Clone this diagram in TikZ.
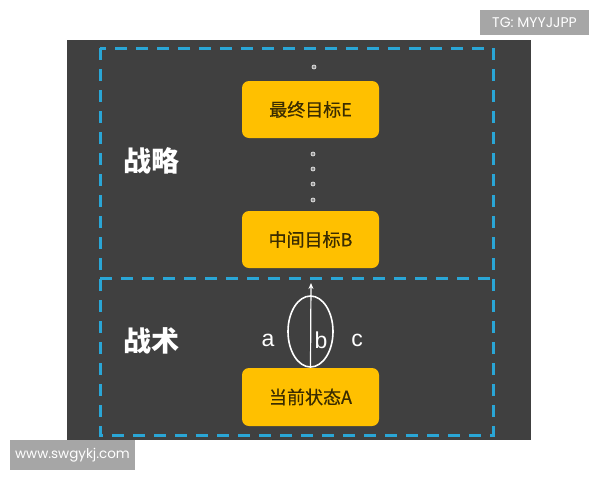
\documentclass[tikz,border=0pt]{standalone}
\usepackage{fontspec}
\setmainfont{Liberation Sans}
\newfontfamily\cjk{Noto Sans CJK SC}
\newfontfamily\cjkgoal{Noto Sans CJK SC}[FakeBold=0.5]
\newfontfamily\wmfont{Poppins}
\usetikzlibrary{arrows.meta,positioning,shapes.geometric}

\begin{document}
\begin{tikzpicture}[x=1pt,y=-1pt,
    goal/.style={fill=goldbox,rounded corners=7pt,minimum width=137pt,minimum height=57pt,
      inner sep=0pt,text=goaltext,font=\cjkgoal\fontsize{18}{20}\selectfont},
    dot/.style={circle,draw=white,fill=black!45,line width=0.6pt,inner sep=0pt,minimum size=4pt},
    region/.style={draw=dashblue,line width=3pt,dash pattern=on 12pt off 9pt},
    level/.style={text=white,font=\cjk\bfseries\fontsize{28}{30}\selectfont},
    choice/.style={text=white,font=\fontsize{23}{25}\selectfont},
    stamp/.style={fill=black!35,text=white,inner sep=0pt,font=\wmfont\fontsize{14}{16}\selectfont}]
        \definecolor{darkbg}{HTML}{404040}
        \definecolor{goldbox}{HTML}{FFC000}
        \definecolor{goaltext}{HTML}{3A2C00}
        \definecolor{dashblue}{HTML}{2AA6D6}

        \useasboundingbox (0,0) rectangle (600,480);
        \fill[white] (0,0) rectangle (600,480);
        \fill[darkbg] (67,40) rectangle (531,440);

        % dashed regions
        \draw[region] (100,48) rectangle (493,435);
        \draw[region] (100,278) -- (493,278);

        \node[level] (strategy) at (151,161) {战略};
        \node[level] (tactics) at (151,341) {战术};

        \node[goal] (goalE) at (310.5,109.5) {最终目标E};
        \node[goal] (goalB) at (310.5,239.5) {中间目标B};
        \node[goal,minimum height=58pt] (stateA) at (310.5,397) {当前状态A};

        \node[dot] (topdot) at (314,67) {};
        \foreach \y in {154,169,184,200}
          \node[dot] (gap\y) at (313,\y) {};

        \node[ellipse,draw=white,line width=1.6pt,minimum width=45pt,minimum height=71pt,inner sep=0pt,
          above=0pt of stateA.north] (paths) {};
        \coordinate (tip) at (311,283);
        \draw[white,line width=1.2pt,-{Stealth[length=6pt,width=5pt]}] (stateA.north) -- (tip);

        \node[choice] (optA) at (268,340) {a};
        \node[choice] (optB) at (321,340) {b};
        \node[choice] (optC) at (357,340) {c};

        \node[stamp,minimum width=109pt,minimum height=25pt] (tg) at (534.5,22.5) {TG: MYYJJPP};
        \node[stamp,minimum width=125pt,minimum height=30pt,font=\wmfont\fontsize{13.5}{15}\selectfont] (site) at (72.5,455) {www.swgykj.com};
\end{tikzpicture}
\end{document}
